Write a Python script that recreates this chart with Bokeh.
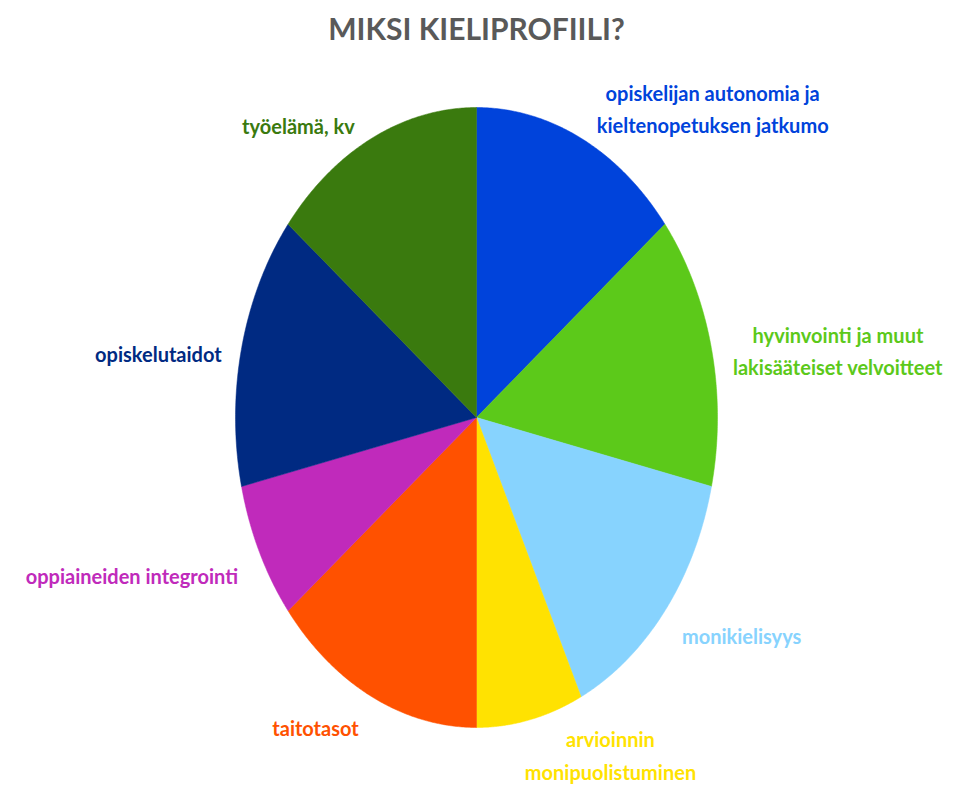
import numpy as np
from bokeh.plotting import figure
from bokeh.models import Range1d, ColumnDataSource
from bokeh.core.properties import value
from bokeh.embed import file_html
from bokeh.resources import INLINE

# ---- data ----
categories = [
    "opiskelijan autonomia ja\nkieltenopetuksen jatkumo",
    "hyvinvointi ja muut\nlakisääteiset velvoitteet",
    "monikielisyys",
    "arvioinnin\nmonipuolistuminen",
    "taitotasot",
    "oppiaineiden integrointi",
    "opiskelutaidot",
    "työelämä, kv",
]
values = [2, 2, 2, 1, 2, 1, 2, 2]
colors = ["#0043DB", "#5CC91A", "#87D3FE", "#FFE201", "#FF5100",
          "#C02ABB", "#002A82", "#3A7A0E"]
title_text = "MIKSI KIELIPROFIILI?"

# ---- layout (label anchor positions in data units, radius of pie = 1) ----
label_pos = [(0.98, 0.995), (1.50, 0.215), (1.10, -0.705), (0.556, -1.09),
             (-0.668, -1.003), (-1.43, -0.51), (-1.32, 0.206), (-0.739, 0.939)]

W, H = 958, 789
cx_px, cy_px, rx_px, ry_px = 476, 417, 241, 310

p = figure(width=W, height=H, output_backend="svg", toolbar_location=None,
           x_range=Range1d(-cx_px / rx_px, (W - cx_px) / rx_px),
           y_range=Range1d(-(H - cy_px) / ry_px, cy_px / ry_px),
           min_border=0)
p.axis.visible = False
p.grid.visible = False
p.outline_line_color = None
p.background_fill_color = "white"

total = float(sum(values))
cum = np.concatenate([[0.0], np.cumsum(values)]) / total * 2 * np.pi
xs, ys = [], []
for i in range(len(values)):
    a = np.linspace(cum[i], cum[i + 1], 120)
    xs.append(np.concatenate([[0.0], np.sin(a)]))
    ys.append(np.concatenate([[0.0], np.cos(a)]))
src = ColumnDataSource(dict(xs=xs, ys=ys, color=colors, name=categories))
p.patches("xs", "ys", fill_color="color", line_color="color", line_width=0.5, source=src)

font = value("Lato")
for (lx, ly), txt, c in zip(label_pos, categories, colors):
    p.text(x=[lx], y=[ly], text=[txt], text_color=c, text_font=font,
           text_font_style="bold", text_font_size="20px", text_align="center",
           text_baseline="middle", text_line_height=1.36)

p.text(x=[0], y=[(cy_px - 27) / ry_px], text=[title_text], text_color="#595959",
       text_font=font, text_font_style="bold", text_font_size="30px",
       text_align="center", text_baseline="middle")

open("out.html", "w").write(file_html(p, INLINE))
